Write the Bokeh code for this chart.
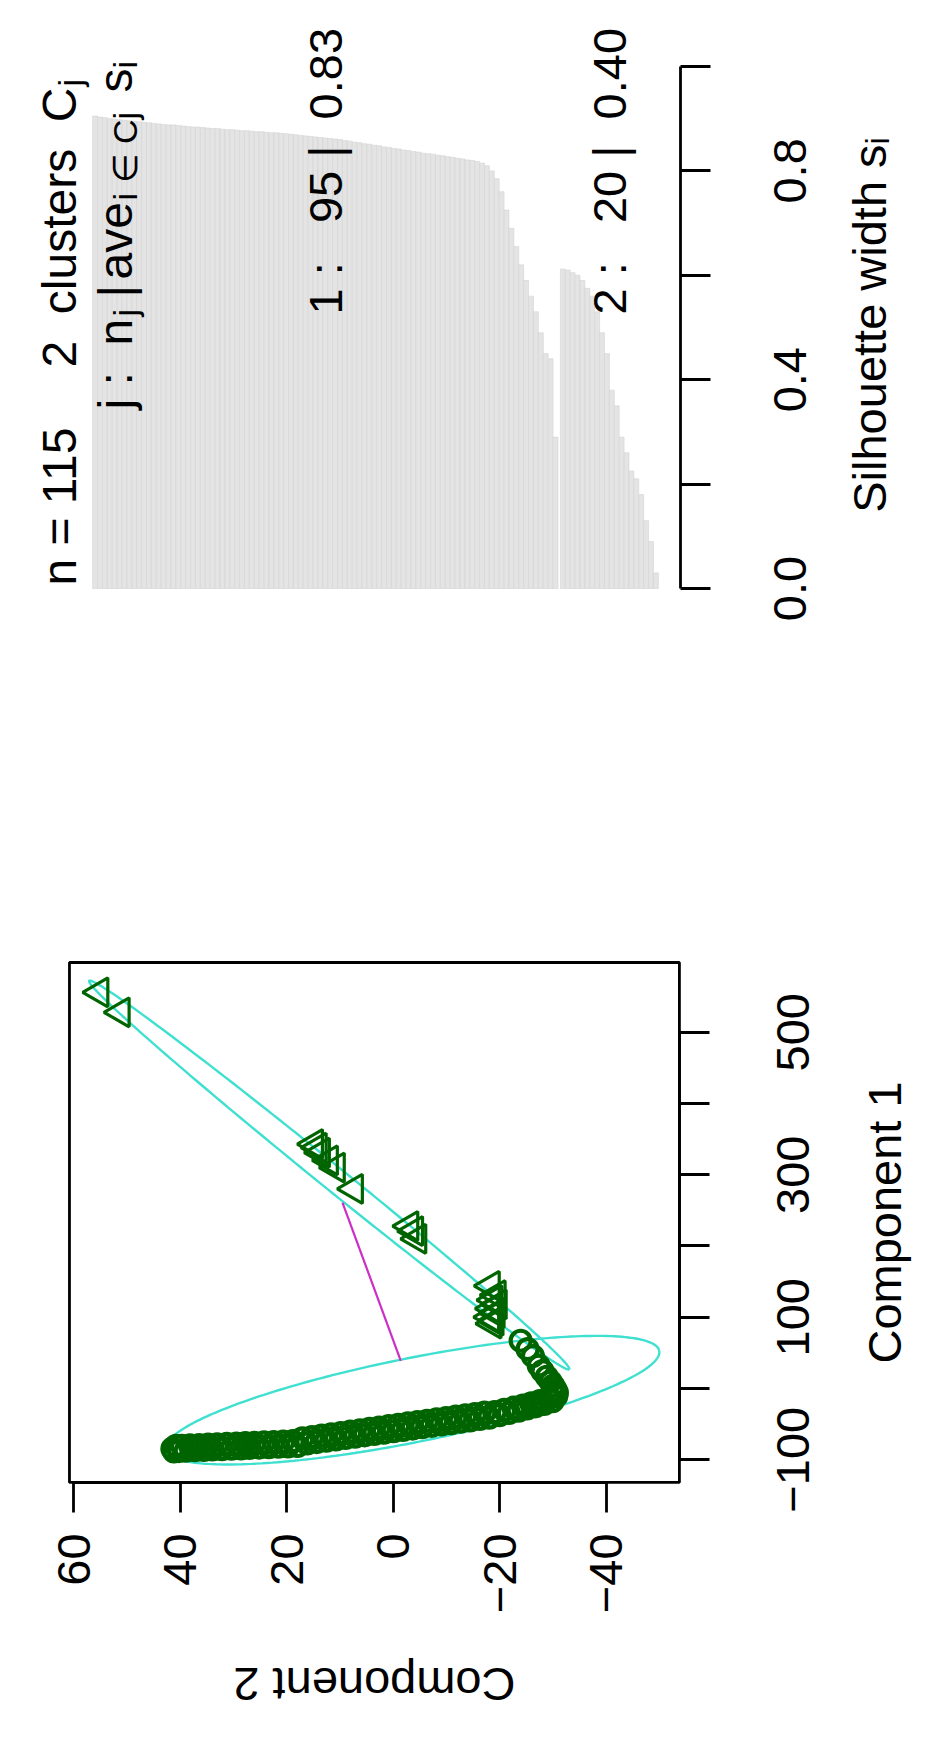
import math
import numpy as np
from bokeh.plotting import figure
from bokeh.models import Range1d, FixedTicker
from bokeh.layouts import column
from bokeh.embed import file_html
from bokeh.resources import INLINE
from bokeh.core.properties import value

FONT = "Liberation Sans"

# ---------------- silhouette data ----------------
sil_c1 = [0.905, 0.903, 0.902, 0.900, 0.899, 0.898, 0.897, 0.896, 0.895, 0.894,
          0.893, 0.892, 0.891, 0.890, 0.889, 0.888, 0.888, 0.887, 0.886, 0.885,
          0.884, 0.884, 0.883, 0.882, 0.881, 0.881, 0.880, 0.879, 0.879, 0.878,
          0.877, 0.877, 0.876, 0.875, 0.875, 0.874, 0.873, 0.873, 0.872, 0.871,
          0.870, 0.869, 0.868, 0.867, 0.866, 0.865, 0.864, 0.863, 0.862, 0.861,
          0.860, 0.858, 0.857, 0.855, 0.854, 0.852, 0.851, 0.849, 0.848, 0.846,
          0.845, 0.843, 0.842, 0.840, 0.839, 0.837, 0.836, 0.834, 0.833, 0.832,
          0.830, 0.829, 0.827, 0.826, 0.824, 0.823, 0.821, 0.820, 0.818, 0.815,
          0.810, 0.800, 0.785, 0.760, 0.725, 0.690, 0.655, 0.620, 0.590, 0.560,
          0.530, 0.490, 0.450, 0.440, 0.290]
sil_c2 = [0.612, 0.610, 0.605, 0.600, 0.590, 0.575, 0.560, 0.530, 0.490, 0.450,
          0.380, 0.350, 0.290, 0.260, 0.225, 0.210, 0.180, 0.130, 0.090, 0.030]
n_obs = 115
cluster_ids = ["1", "2"]
cluster_n = [95, 20]
cluster_avg = ["0.83", "0.40"]
sil_ticks = [0.0, 0.2, 0.4, 0.6, 0.8, 1.0]
sil_tick_text = ["0.0", "", "0.4", "", "0.8", ""]

# ---------------- clusplot data ----------------
# cluster 1 (circles): Component 2, Component 1
cl1_comp2 = [41.5, 41.2, 40.8, 40.3, 39.7, 39.0, 38.2, 37.3, 36.5, 35.6,
             34.8, 34.0, 33.1, 32.2, 31.3, 30.4, 29.5, 28.6, 27.8, 27.0,
             26.1, 25.2, 24.3, 23.4, 22.5, 21.6, 20.7, 19.8, 18.9, 18.0,
             17.1, 16.2, 15.3, 14.4, 13.5, 12.6, 11.7, 10.8, 9.9, 9.0,
             8.1, 7.2, 6.3, 5.4, 4.5, 3.6, 2.7, 1.8, 0.9, 0.0,
             -0.9, -1.8, -2.7, -3.6, -4.5, -5.4, -6.3, -7.2, -8.1, -9.0,
             -9.9, -10.8, -11.7, -12.6, -13.5, -14.4, -15.3, -16.2, -17.1, -18.0,
             -19.0, -19.9, -20.8, -21.7, -22.6, -23.5, -24.3, -25.1, -25.9, -26.7,
             -27.5, -28.3, -29.1, -29.9,
             -30.6, -30.7, -30.4, -30.0, -29.5, -28.8, -28.0, -27.3, -26.2, -25.2, -23.9]
cl1_comp1 = [-84.5, -88.2, -80.6, -87.8, -80.4, -87.3, -79.9, -86.7, -79.4, -86.2,
             -78.9, -85.6, -78.4, -85.1, -77.8, -84.5, -77.3, -84.0, -76.8, -83.4,
             -76.2, -82.9, -75.7, -82.3, -75.1, -81.8, -74.6, -81.2, -74.0, -80.7,
             -69.9, -77.2, -68.2, -75.2, -66.3, -73.3, -64.4, -71.4, -62.5, -69.5,
             -60.6, -67.6, -58.7, -65.7, -56.8, -63.8, -54.9, -61.9, -52.9, -60.0,
             -51.0, -58.1, -49.1, -56.2, -47.2, -54.3, -45.3, -52.4, -43.4, -50.5,
             -41.5, -48.6, -39.6, -46.6, -37.7, -44.7, -35.8, -42.8, -33.9, -40.9,
             -33.2, -37.5, -30.1, -34.4, -27.0, -31.2, -23.9, -28.1, -20.8, -25.0,
             -17.6, -21.7, -13.9, -17.8,
             -10.5, -5.8, -1.2, 4.0, 9.7, 16.5, 24.3, 32.0, 45.5, 55.2, 67.0]
# cluster 2 (triangles)
cl2_comp2 = [55.2, 51.2, 14.9, 14.2, 13.6, 12.1, 10.8, 7.4, -3.0, -3.9,
             -4.5, -18.3, -19.4, -18.8, -19.6, -18.5, -19.2, -18.2, -19.0, -18.6]
cl2_comp1 = [556, 528, 343, 338, 331, 320, 310, 280, 228, 221,
             210, 144, 131, 124, 118, 112, 106, 100, 95, 91]
# ellipses (centre + two conjugate half-axes), one entry per cluster
ell_center_comp2 = [-3.57, 12.06]
ell_center_comp1 = [-16.4, 299.6]
ell_a_comp2 = [-46.35, -45.07]
ell_a_comp1 = [69.3, -272.6]
ell_b_comp2 = [-1.547, 1.418]
ell_b_comp1 = [-57.8, -13.08]
# segment joining the ellipses
link_comp2 = [-1.39, 9.56]
link_comp1 = [38.9, 261.0]

# plotting region limits of the clusplot (R "usr")
usr_comp2 = [60.83, -53.71]
usr_comp1 = [-131.9, 597.9]
comp1_ticks = [-100, 0, 100, 200, 300, 400, 500]
comp1_tick_text = ["\u2212100", "", "100", "", "300", "", "500"]
comp2_ticks = [60, 40, 20, 0, -20, -40]
comp2_tick_text = ["60", "40", "20", "0", "\u221220", "\u221240"]

CYAN = "#40E0D0"
MAGENTA = "#CC2FC6"
GREEN = "#006400"
LW = 2.8
FS = "47px"
NB = "\u00a0"
ROT = math.pi / 2


def style_axis(ax, ticks, overrides, standoff, bounds, label_size=FS):
    ax.ticker = FixedTicker(ticks=ticks)
    ax.major_label_overrides = overrides
    ax.bounds = bounds
    ax.major_tick_in = 0
    ax.major_tick_out = 30
    ax.minor_tick_in = 0
    ax.minor_tick_out = 0
    ax.axis_line_width = LW
    ax.axis_line_color = "black"
    ax.major_tick_line_width = LW
    ax.major_tick_line_color = "black"
    ax.major_label_text_font = FONT
    ax.major_label_text_font_size = label_size
    ax.major_label_text_color = "black"
    ax.major_label_orientation = ROT
    ax.major_label_standoff = standoff


def txt(p, x, y, s, size=FS, align="left", baseline="alphabetic", angle=ROT):
    p.text(x=[x], y=[y], text=[s], angle=angle, text_font=value(FONT), text_font_size=size,
           text_align=align, text_baseline=baseline, text_color="black")


# ================= silhouette figure (top) =================
p1 = figure(width=913, height=640, output_backend="svg", toolbar_location=None,
            x_range=Range1d(-18.81, 167.59), y_range=Range1d(-0.0996, 1.1264),
            x_axis_location=None, y_axis_location="right",
            min_border_left=0, min_border_top=0, min_border_bottom=0, min_border_right=0)
p1.outline_line_color = None
p1.xgrid.grid_line_color = None
p1.ygrid.grid_line_color = None

n1 = len(sil_c1)
u1 = [i + 0.5 for i in range(n1)]
u2 = [n1 + 0.5 + j + 0.5 for j in range(len(sil_c2))]
bar_end = n1 + 0.5 + len(sil_c2)
p1.vbar(x=u1 + u2, width=1.0, top=sil_c1 + sil_c2, bottom=0,
        fill_color="#E4E4E4", line_color="#D3D3D3", line_width=0.6)

ya = p1.yaxis[0]
style_axis(ya, sil_ticks, {t: "" for t in sil_ticks}, 0, (0, 1), label_size="0px")
ya.fixed_location = bar_end + 0.04 * bar_end          # right edge of the bar region
for tv, tl in zip(sil_ticks, sil_tick_text):
    if tl:
        txt(p1, 142.3, tv, tl, align="center")
txt(p1, 158.6, 0.505, "Silhouette width s\u1d62", align="center")

# titles (margin texts)
txt(p1, -6.76, 0.0057, "n = %d" % n_obs, size="48px")
txt(p1, -6.76, 0.9598, "2" + NB * 2 + "clusters" + NB * 2 + "C", size="48px", align="right")
txt(p1, -4.72, 0.9617, "j", size="34px")
# header  j : n_j | ave_{i in Cj}  s_i
txt(p1, 4.67, 0.3429, "j :" + NB * 2 + "n", size="48px")
txt(p1, 6.71, 0.5211, "j", size="34px")
txt(p1, 4.67, 0.5575, "|", size="48px")
txt(p1, 4.67, 0.5920, "ave", size="48px")
txt(p1, 6.71, 0.7433, "i \u2208 Cj", size="34px")
txt(p1, 4.67, 0.9502, "s", size="48px")
txt(p1, 6.71, 0.9962, "i", size="34px")
# cluster summary labels
centers = [n1 / 2.0, n1 + 0.5 + len(sil_c2) / 2.0]
for cid, cn, cavg, cu in zip(cluster_ids, cluster_n, cluster_avg, centers):
    txt(p1, cu, 0.5249, cid + " :" + NB * 3 + str(cn) + " |" + NB * 2 + cavg,
        size=FS, baseline="middle")

# ================= clusplot figure (bottom) =================
p2 = figure(width=913, height=1083, output_backend="svg", toolbar_location=None,
            x_range=Range1d(73.78, -97.67), y_range=Range1d(-470.2, 1049.8),
            x_axis_location="below", y_axis_location="right",
            min_border_left=0, min_border_right=0, min_border_top=0, min_border_bottom=0)
p2.outline_line_color = None
p2.xgrid.grid_line_color = None
p2.ygrid.grid_line_color = None

t = np.linspace(0, 2 * math.pi, 240)
for k in range(2):
    ex = ell_center_comp2[k] + ell_a_comp2[k] * np.cos(t) + ell_b_comp2[k] * np.sin(t)
    ey = ell_center_comp1[k] + ell_a_comp1[k] * np.cos(t) + ell_b_comp1[k] * np.sin(t)
    p2.line(ex, ey, line_color=CYAN, line_width=2.4)
p2.line(link_comp2, link_comp1, line_color=MAGENTA, line_width=2.2)

p2.scatter(cl1_comp2, cl1_comp1, marker="circle", size=20, fill_color=None,
           line_color=GREEN, line_width=4.2)
p2.scatter(cl2_comp2, cl2_comp1, marker="triangle", angle=ROT, size=29,
           fill_color=None, line_color=GREEN, line_width=3.2)

# plot box
p2.quad(left=[usr_comp2[0]], right=[usr_comp2[1]], bottom=[usr_comp1[0]], top=[usr_comp1[1]],
        fill_color=None, line_color="black", line_width=LW)

xa = p2.xaxis[0]
style_axis(xa, comp2_ticks, {t_: s for t_, s in zip(comp2_ticks, comp2_tick_text)}, 21, (-40, 60))
xa.fixed_location = usr_comp1[0]

ya2 = p2.yaxis[0]
style_axis(ya2, comp1_ticks, {t_: "" for t_ in comp1_ticks}, 0, (-100, 500), label_size="0px")
ya2.fixed_location = usr_comp2[1]
for tv, tl in zip(comp1_ticks, comp1_tick_text):
    if tl:
        txt(p2, -74.95, tv, tl, align="center")
txt(p2, -92.2, sum(usr_comp1) / 2, "Component 1", align="center")
txt(p2, sum(usr_comp2) / 2, -415.4, "Component 2", align="center", angle=math.pi)

layout = column(p1, p2, spacing=0)
open("out.html", "w").write(file_html(layout, INLINE))
